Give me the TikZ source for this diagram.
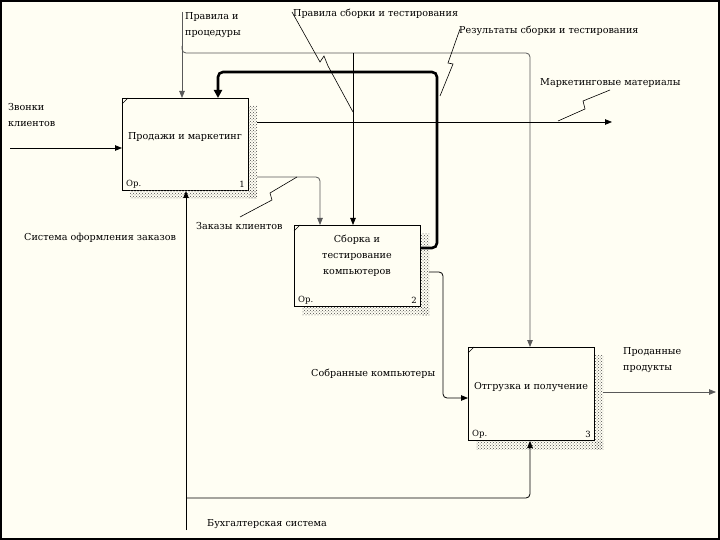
\documentclass[tikz,border=0pt]{standalone}
\usepackage{fontspec}
\setmainfont{DejaVu Serif}
\usetikzlibrary{arrows.meta,patterns,calc}
\definecolor{bg}{HTML}{FFFEF3}
\begin{document}
\begin{tikzpicture}[x=1pt,y=-1pt,
  font=\fontsize{9.6}{16}\selectfont,
  procbox/.style={draw, line width=1pt, fill=bg, minimum width=126pt, anchor=north west, inner sep=0pt},
  arr/.style={line width=0.8pt, rounded corners=4pt, -{Triangle[length=7pt,width=5.5pt]}},
  garr/.style={arr, draw=black!65},
  thickarr/.style={line width=2.6pt, rounded corners=5pt, -{Triangle[length=8pt,width=8pt]}},
  squig/.style={line width=0.6pt},
  lbl/.style={inner sep=0pt, anchor=west},
  mlbl/.style={inner sep=0pt, anchor=north west, align=left},
  boxtitle/.style={inner sep=0pt, align=center},
  small/.style={inner sep=0pt, font=\fontsize{8.5}{9}\selectfont}
]
\useasboundingbox (0,0) rectangle (720,540);
\fill[bg] (0,0) rectangle (720,540);
\draw[line width=1.6pt] (0.8,0.8) rectangle (719.2,539.2);

% boxes
\node[procbox, minimum height=92pt] (b1) at (122,98) {};
\node[procbox, minimum height=81pt] (b2) at (294,225) {};
\node[procbox, minimum height=93pt] (b3) at (468,347) {};

\foreach \b in {b1,b2,b3}{
  \fill[pattern=crosshatch dots, pattern color=black!70]
    ([yshift=-8pt]\b.north east) rectangle ([xshift=8pt,yshift=-8pt]\b.south east);
  \fill[pattern=crosshatch dots, pattern color=black!70]
    ([xshift=8pt]\b.south west) rectangle ([xshift=8pt,yshift=-8pt]\b.south east);
  \draw[line width=0.5pt] ([yshift=-6pt]\b.north west) -- ([xshift=6pt]\b.north west);
  \node[small, anchor=south west] at ([shift={(4pt,3pt)}]\b.south west) {Ор.};
}
\node[small, anchor=south east] (n1) at ([shift={(-4pt,3pt)}]b1.south east) {1};
\node[small, anchor=south east] (n2) at ([shift={(-4pt,3pt)}]b2.south east) {2};
\node[small, anchor=south east] (n3) at ([shift={(-4pt,3pt)}]b3.south east) {3};

\node[boxtitle] (t1) at (185,137) {Продажи и маркетинг};
\node[boxtitle] (t2) at (357,256) {Сборка и\\тестирование\\компьютеров};
\node[boxtitle] (t3) at (531,387) {Отгрузка и получение};

% named free ends and bends
\coordinate (ctop) at (182,12);
\coordinate (cj) at (182,46);
\coordinate (cr) at (530,53);
\coordinate (in1) at (10,148);
\coordinate (mkt) at (612,122);
\coordinate (sold) at (716,392);
\coordinate (mbot) at (186,530);
\coordinate (mj) at (186,498);

% controls
\draw[garr] (ctop) -- (ctop |- b1.north);
\draw[garr] (cj) -- (182,53) -- (cr) -- (cr |- b3.north);
\draw[arr] (353,53) -- (353,0 |- b2.north);

% feedback (thick)
\draw[thickarr] ($(b2.north east)+(0,23)$) -- (437,248) -- (437,72) -- (218,72) -- (218,0 |- b1.north);

% inputs / outputs
\draw[arr] (in1) -- (b1.west |- in1);
\draw[arr] ($(b1.north east)+(8,24)$) -- (mkt);
\draw[garr] ($(b1.north east)+(8,79)$) -- (320,177) -- (320,0 |- b2.north);
\draw[arr] ($(b2.north east)+(8,47)$) -- (443,272) -- (443,398) -- (b3.west |- 0,398);
\draw[garr] ($(b3.north east)+(8,45)$) -- (sold);

% mechanisms
\draw[arr] (mbot) -- (mbot |- b1.south);
\draw[arr] (mj) -- (530,498) -- (530,0 |- b3.south);

% squiggles
\draw[squig] (292,12) -- (320,62) -- (324,56) -- (328,66) -- (353,112);
\draw[squig] (460,29) -- (448,63) -- (453,64) -- (440,96);
\draw[squig] (610,90) -- (583,101) -- (585,109) -- (558,121);
\draw[squig] (240,217) -- (272,200) -- (270,193) -- (297,177);

% labels
\node[mlbl] (l1) at (185,12) {Правила и\\процедуры};
\node[lbl] (l2) at (293,14) {Правила сборки и тестирования};
\node[lbl] (l3) at (459,31) {Результаты сборки и тестирования};
\node[lbl] (l4) at (540,83) {Маркетинговые материалы};
\node[mlbl] (l5) at (8,103) {Звонки\\клиентов};
\node[lbl] (l6) at (24,238) {Система оформления заказов};
\node[lbl] (l7) at (196,226) {Заказы клиентов};
\node[lbl] (l8) at (311,374) {Собранные компьютеры};
\node[mlbl] (l9) at (623,347) {Проданные\\продукты};
\node[lbl] (l10) at (207,524) {Бухгалтерская система};
\end{tikzpicture}
\end{document}
